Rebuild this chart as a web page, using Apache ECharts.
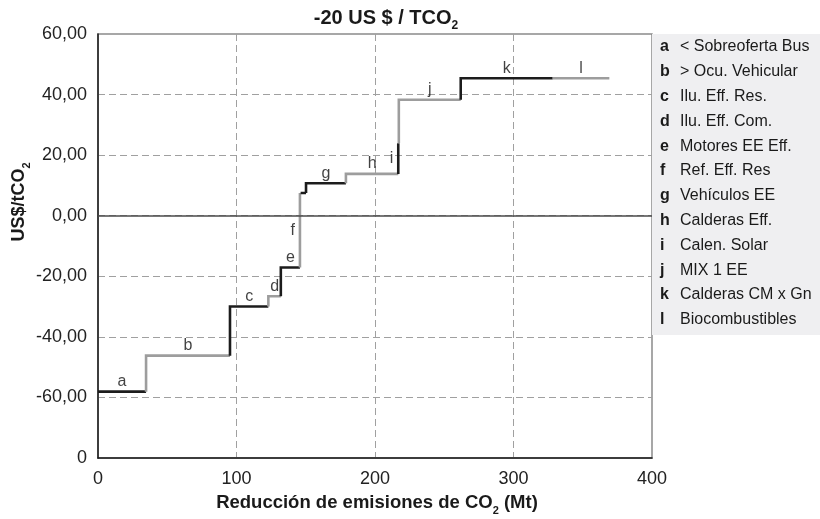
<!DOCTYPE html>
<html>
<head>
<meta charset="utf-8">
<script src="https://cdn.jsdelivr.net/npm/echarts@6/dist/echarts.min.js"></script>
<style>html,body{margin:0;padding:0;background:#fff}#c{width:820px;height:519px}</style>
</head>
<body>
<div id="c"></div>
<script>
// ---- data ----
const stepLetter = ['a','b','c','d','e','f','g','g','h','i','j','k','l'];
const stepStart  = [0, 34.7, 95.3, 123, 132, 145.8, 146.3, 150.2, 179, 216.8, 217.2, 261.9, 328.3];
const stepEnd    = [34.7, 95.3, 123, 132, 145.8, 146.3, 150.2, 179, 216.8, 217.2, 261.9, 328.3, 369.2];
const stepCost   = [-58.1, -46.2, -30.0, -26.6, -17.1, 7.5, 7.5, 10.7, 13.8, 23.9, 38.3, 45.4, 45.4];
const legendLetters = ['a','b','c','d','e','f','g','h','i','j','k','l'];
const legendNames = ['< Sobreoferta Bus','> Ocu. Vehicular','Ilu. Eff. Res.','Ilu. Eff. Com.','Motores EE Eff.','Ref. Eff. Res','Vehículos EE','Calderas Eff.','Calen. Solar','MIX 1 EE','Calderas CM x Gn','Biocombustibles'];
const xTicks = [0, 100, 200, 300, 400];
const yTickLabels = {'-80':'0','-60':'-60,00','-40':'-40,00','-20':'-20,00','0':'0,00','20':'20,00','40':'40,00','60':'60,00'};

const FONT = 'Liberation Sans, Arial, Helvetica, sans-serif';
const BLACK = '#1c1c1c', GRAY = '#9d9d9d';
const chart = echarts.init(document.getElementById('c'));

const series = [];
stepLetter.forEach((L, i) => {
  const prev = i === 0 ? stepCost[0] : stepCost[i - 1];
  const color = legendLetters.indexOf(L) % 2 === 0 ? BLACK : GRAY;
  series.push({
    type: 'line', symbol: 'none', animation: false, z: 3,
    lineStyle: { color, width: 2.6, cap: 'butt', join: 'miter' },
    data: [[stepStart[i], prev], [stepStart[i], stepCost[i]], [stepEnd[i], stepCost[i]]]
  });
});

// label anchors: for each letter, the widest step
const labelData = [];
legendLetters.forEach(L => {
  let best = -1, bw = -1;
  stepLetter.forEach((s, i) => { if (s === L && stepEnd[i] - stepStart[i] > bw) { bw = stepEnd[i] - stepStart[i]; best = i; } });
  const i = best;
  if (bw > 3) {
    labelData.push({ value: [(stepStart[i] + stepEnd[i]) / 2, stepCost[i]], name: L, label: { position: 'top', distance: 2 } });
  } else {
    const prev = stepCost[i - 1];
    labelData.push({ value: [stepStart[i], (prev + stepCost[i]) / 2], name: L, label: { position: 'left', distance: 5 } });
  }
});
series.push({
  type: 'scatter', symbolSize: 0, animation: false, z: 5, silent: true,
  data: labelData,
  label: { show: true, formatter: p => p.name, color: '#111', fontSize: 16, fontFamily: FONT }
});
// zero line
series.push({
  type: 'line', data: [], symbol: 'none',
  markLine: { silent: true, symbol: 'none', animation: false, label: { show: false },
    lineStyle: { color: '#4a4a4a', width: 1.5, type: 'solid' }, data: [{ yAxis: 0 }] }
});

const legendChildren = [{ type: 'rect', shape: { x: 652, y: 34, width: 168, height: 301 }, style: { fill: '#efeff1' }, z: 0 }];
legendLetters.forEach((L, i) => {
  const y = 47 + i * 24.8;
  legendChildren.push({ type: 'text', x: 660, y, style: { text: L, font: 'bold 16px ' + FONT, fill: '#1a1a1a', verticalAlign: 'middle' } });
  legendChildren.push({ type: 'text', x: 680, y, style: { text: legendNames[i], font: '16px ' + FONT, fill: '#1a1a1a', verticalAlign: 'middle' } });
});

chart.setOption({
  animation: false,
  backgroundColor: '#fff',
  grid: { left: 98, right: 168, top: 34, bottom: 61, show: true, borderColor: '#8a8a8a', borderWidth: 1.5 },
  xAxis: {
    type: 'value', min: 0, max: 400, interval: 100,
    axisLine: { show: true, onZero: false, lineStyle: { color: '#1a1a1a', width: 1.5 } },
    axisTick: { show: false },
    axisLabel: { fontSize: 18, color: '#222', fontFamily: FONT, margin: 12, formatter: v => xTicks.includes(v) ? String(v) : '' },
    splitLine: { show: true, showMinLine: false, showMaxLine: false, lineStyle: { color: '#a0a0a0', type: [7, 4], width: 1 } }
  },
  yAxis: {
    type: 'value', min: -80, max: 60, interval: 20,
    axisLine: { show: true, onZero: false, lineStyle: { color: '#1a1a1a', width: 1.5 } },
    axisTick: { show: false },
    axisLabel: { fontSize: 18, color: '#222', fontFamily: FONT, margin: 11, formatter: v => yTickLabels[String(v)] ?? '' },
    splitLine: { show: true, showMinLine: false, showMaxLine: false, lineStyle: { color: '#a0a0a0', type: [7, 4], width: 1 } }
  },
  series,
  graphic: [
    { type: 'group', children: legendChildren },
    { type: 'text', x: 386, y: 18, style: {
        text: '{m|-20 US $ / TCO}{s|2}', align: 'center', verticalAlign: 'middle',
        rich: { m: { font: 'bold 20px ' + FONT, fill: '#1a1a1a', lineHeight: 28 },
                s: { font: 'bold 12px ' + FONT, fill: '#1a1a1a', lineHeight: 12, verticalAlign: 'bottom' } } } },
    { type: 'text', x: 377, y: 503, style: {
        text: '{m|Reducción de emisiones de CO}{s|2}{m| (Mt)}', align: 'center', verticalAlign: 'middle',
        rich: { m: { font: 'bold 18.5px ' + FONT, fill: '#1a1a1a', lineHeight: 26 },
                s: { font: 'bold 11px ' + FONT, fill: '#1a1a1a', lineHeight: 11, verticalAlign: 'bottom' } } } },
    { type: 'text', x: 19, y: 202, rotation: Math.PI / 2, style: {
        text: '{m|US$/tCO}{s|2}', align: 'center', verticalAlign: 'middle',
        rich: { m: { font: 'bold 18px ' + FONT, fill: '#1a1a1a', lineHeight: 26 },
                s: { font: 'bold 11px ' + FONT, fill: '#1a1a1a', lineHeight: 11, verticalAlign: 'bottom' } } } }
  ]
});
</script>
</body>
</html>
